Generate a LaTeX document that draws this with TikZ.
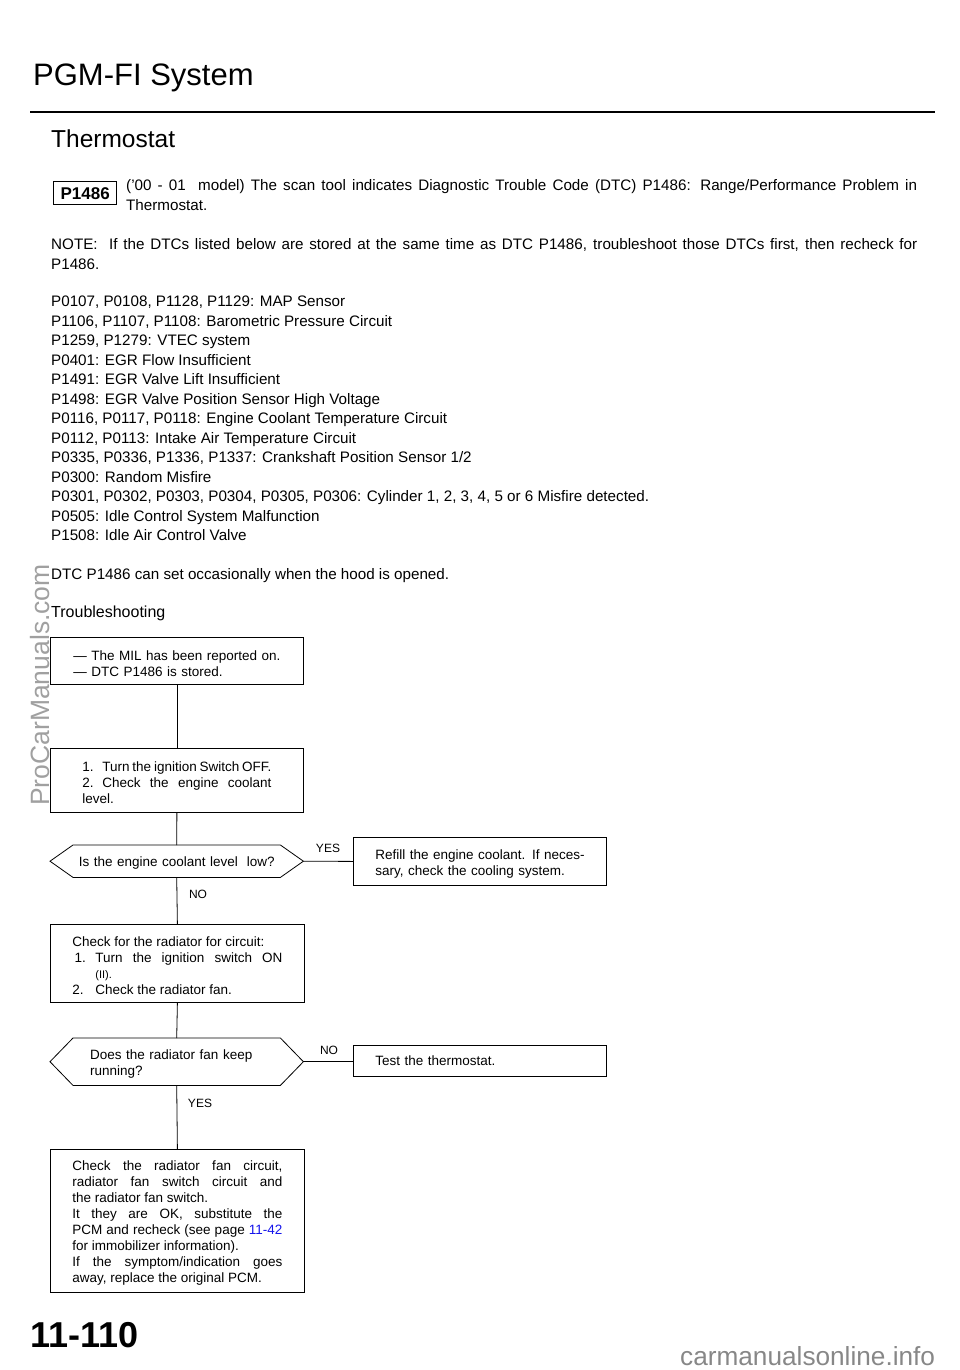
\documentclass[tikz,border=0pt]{standalone}
\usepackage{fontspec}
\setmainfont{Liberation Sans}
\usetikzlibrary{calc}
\newcommand\fbody{\fontsize{15.2}{19.5}\selectfont}
\newcommand\fflow{\fontsize{13.5}{16}\selectfont}
\newcommand\flbl{\fontsize{12}{14}\selectfont}
\definecolor{linkblue}{RGB}{20,20,235}
\definecolor{wmgray}{RGB}{135,135,135}
\definecolor{wmlight}{RGB}{160,160,160}
\tikzset{
  txt/.style={anchor=base west, inner sep=0pt, font=\fbody},
  para/.style={anchor=base west, inner sep=0pt, font=\fbody, align=justify},
  fbox/.style={draw, line width=0.8pt, anchor=north west, minimum width=253pt,
    inner xsep=22pt, inner ysep=0pt, text width=209pt, align=justify, font=\fflow,
    execute at end node={\par\vspace*{-5pt}}},
  hexbox/.style={draw=none, anchor=north west, minimum width=207pt, inner ysep=0pt, font=\fflow,
    execute at end node={\par\vspace*{-4pt}}},
  conn/.style={line width=0.8pt},
  lbl/.style={inner sep=0pt, font=\flbl},
}
\begin{document}
\begin{tikzpicture}[x=1pt,y=-1pt]
\useasboundingbox (0,0) rectangle (960,1370);
% header
\node[anchor=base west, inner sep=0pt, font=\fontsize{31}{36}\selectfont] (title) at (33,86) {PGM-FI System};
\draw[line width=2.6pt] (30,112) -- (935,112);
\node[anchor=base west, inner sep=0pt, font=\fontsize{24.5}{28}\selectfont] (sub) at (51,147) {Thermostat};
% DTC box
\node[draw, line width=1.3pt, anchor=north west, minimum width=63pt, minimum height=23pt, inner sep=0pt,
  font=\fontsize{17}{20}\selectfont\bfseries] (code) at (53,181) {P1486};
\node[para, text width=791pt] (intro) at (126,190.5)
  {('00 - 01\ \ model) The scan tool indicates Diagnostic Trouble Code (DTC) P1486: Range/Performance Problem in\linebreak Thermostat.};
\node[para, text width=866pt] (note) at (51,249.5)
  {NOTE:\ \ If the DTCs listed below are stored at the same time as DTC P1486, troubleshoot those DTCs first, then recheck for\linebreak P1486.};
% list
\foreach \t [count=\i from 0] in {
  {P0107, P0108, P1128, P1129: MAP Sensor},
  {P1106, P1107, P1108: Barometric Pressure Circuit},
  {P1259, P1279: VTEC system},
  {P0401: EGR Flow Insufficient},
  {P1491: EGR Valve Lift Insufficient},
  {P1498: EGR Valve Position Sensor High Voltage},
  {P0116, P0117, P0118: Engine Coolant Temperature Circuit},
  {P0112, P0113: Intake Air Temperature Circuit},
  {P0335, P0336, P1336, P1337: Crankshaft Position Sensor 1/2},
  {P0300: Random Misfire},
  {P0301, P0302, P0303, P0304, P0305, P0306: Cylinder 1, 2, 3, 4, 5 or 6 Misfire detected.},
  {P0505: Idle Control System Malfunction},
  {P1508: Idle Air Control Valve}}
  \node[txt] (l\i) at (51,{306.5+19.5*\i}) {\t};
\node[txt] (hood) at (51,579.5) {DTC P1486 can set occasionally when the hood is opened.};
\node[anchor=base west, inner sep=0pt, font=\fontsize{16}{19}\selectfont] (trb) at (51,617) {Troubleshooting};
% flowchart
\node[fbox, minimum height=47pt, inner xsep=23pt, text width=207pt, align=left] (b1) at (50,637)
  {\mbox{--- The MIL has been reported on.}\\\mbox{--- DTC P1486 is stored.}};
\node[fbox, minimum height=64pt, inner xsep=23pt, text width=189pt] (b2) at (50,748)
  {\makebox[20pt][l]{1.}Turn the ignition Switch OFF.\par
   \hangindent=20pt\hangafter=1 \makebox[20pt][l]{2.}Check the engine coolant\linebreak level.};
\node[hexbox, minimum height=32pt, inner xsep=4pt, text width=199pt, align=center] (d1) at (73,845)
  {Is the engine coolant level\ \ low?};
\coordinate (d1l) at ([xshift=-23pt]d1.west);
\coordinate (d1r) at ([xshift=23pt]d1.east);
\draw[conn] (d1.north west) -- (d1.north east) -- (d1r) -- (d1.south east) -- (d1.south west) -- (d1l) -- cycle;
\node[fbox, minimum height=48pt, align=left] (refill) at (353,837)
  {\mbox{Refill the engine coolant. If neces-}\\\mbox{sary, check the cooling system.}};
\node[fbox, minimum height=78pt, text width=210pt] (b3) at (50,924)
  {Check for the radiator for circuit:\par
   \hangindent=23pt\hangafter=1 \makebox[23pt][l]{\,1.}Turn the ignition switch ON\linebreak
   {\fontsize{11}{15}\selectfont (II).}\par
   \makebox[23pt][l]{2.}Check the radiator fan.};
\node[hexbox, minimum height=47pt, inner xsep=17pt, text width=173pt, align=left] (d2) at (73,1038)
  {Does the radiator fan keep\\running?};
\coordinate (d2l) at ([xshift=-23pt]d2.west);
\coordinate (d2r) at ([xshift=23pt]d2.east);
\draw[conn] (d2.north west) -- (d2.north east) -- (d2r) -- (d2.south east) -- (d2.south west) -- (d2l) -- cycle;
\node[fbox, minimum height=31pt, align=left] (test) at (353,1045) {Test the thermostat.};
\node[fbox, minimum height=143pt, text width=210pt] (b4) at (50,1149)
  {Check the radiator fan circuit,\linebreak radiator fan switch circuit and\linebreak the radiator fan switch.\par
   It they are OK, substitute the\linebreak PCM and recheck (see page {\color{linkblue}11-42}\linebreak for immobilizer information).\par
   If the symptom/indication goes\linebreak away, replace the original PCM.};
% connectors
\draw[conn] (b1.south) -- (b2.north);
\draw[conn] (b2.south) -- (d1.north);
\draw[conn] (d1r) -- (refill.west);
\draw[conn] (d1.south) -- (b3.north);
\draw[conn] (b3.south) -- (d2.north);
\draw[conn] (d2r) -- (d2r -| test.west);
\draw[conn] (d2.south) -- (b4.north);
% labels
\node[lbl] (yes1) at (328,848) {YES};
\node[lbl] (no1) at (198,894) {NO};
\node[lbl] (no2) at (329,1050) {NO};
\node[lbl] (yes2) at (200,1103) {YES};
% footer
\node[anchor=base west, inner sep=0pt, font=\fontsize{36}{40}\selectfont\bfseries] (page) at (30,1347) {11-110};
\node[anchor=base west, inner sep=0pt, text=wmgray, font=\fontsize{26.2}{30}\selectfont] (wm1) at (680,1365) {carmanualsonline.info};
\node[rotate=90, inner sep=0pt, text=wmlight, font=\fontsize{26.5}{30}\selectfont] (wm2) at (40,685) {ProCarManuals.com};
\end{tikzpicture}
\end{document}
